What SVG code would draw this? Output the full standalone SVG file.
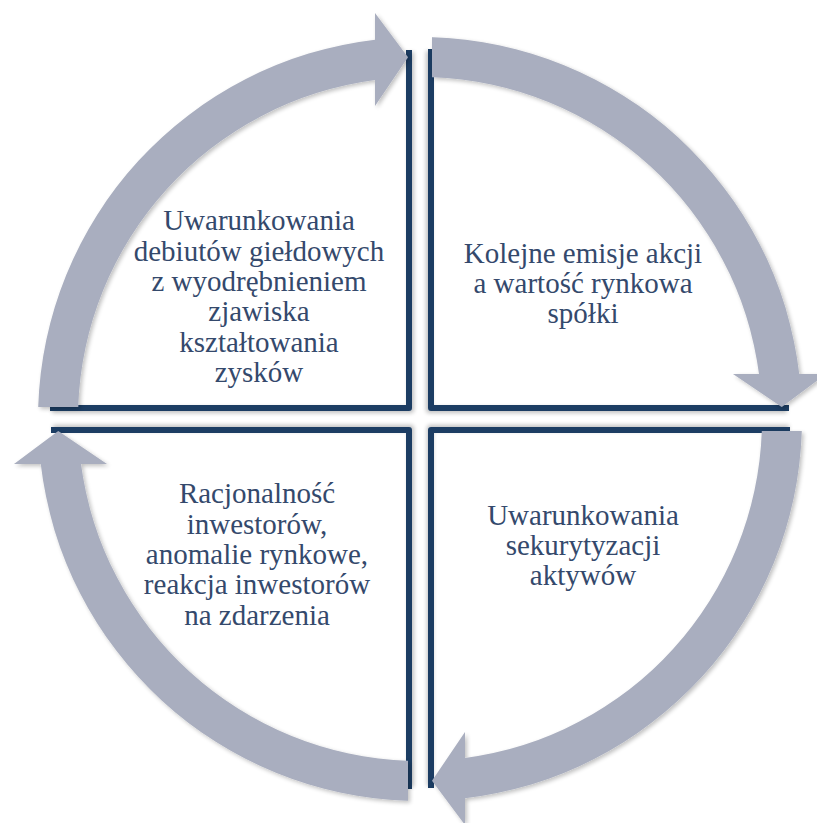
<svg xmlns="http://www.w3.org/2000/svg" xmlns:xlink="http://www.w3.org/1999/xlink" width="817" height="823" viewBox="0 0 817 823">
  <style>
    .ring { fill: #a9aebf; }
    .edge { fill: none; stroke: #1f3e64; stroke-width: 6; stroke-linejoin: round; stroke-linecap: butt; }
    .label { font-size: 29px; fill: #34496c; text-anchor: middle; }
  </style>
  <defs>
    <filter id="soft" x="-10%" y="-10%" width="120%" height="120%">
      <feGaussianBlur in="SourceAlpha" stdDeviation="2"/>
      <feOffset dx="1.5" dy="2" result="blur"/>
      <feComponentTransfer><feFuncA type="linear" slope="0.25"/></feComponentTransfer>
      <feMerge><feMergeNode/><feMergeNode in="SourceGraphic"/></feMerge>
    </filter>
    <!-- quarter ring arrow running from 9 o'clock to 12 o'clock, centre (420,419) -->
    <path id="arc-arrow" class="ring"
          d="M 38.2 407 A 382 382 0 0 1 375 39.7 L 375 13 L 408 57.2 L 375 106 L 375 80 A 342 342 0 0 0 78.2 407 Z"/>
    <!-- L-shaped edge of the upper-left quadrant -->
    <polyline id="quad-edge" class="edge" points="409,50 409,408 50,408"/>
  </defs>

  <!-- quadrants -->
  <g id="node-debiuty">
    <use xlink:href="#quad-edge" filter="url(#soft)"/>
    <g font-family="Liberation Serif, Tinos, DejaVu Serif, serif">
      <text class="label" x="259" y="230">Uwarunkowania</text>
      <text class="label" x="259" y="261">debiutów giełdowych</text>
      <text class="label" x="259" y="291">z wyodrębnieniem</text>
      <text class="label" x="259" y="321">zjawiska</text>
      <text class="label" x="259" y="352">kształtowania</text>
      <text class="label" x="259" y="382">zysków</text>
    </g>
  </g>

  <g id="node-emisje">
    <use xlink:href="#quad-edge" transform="rotate(90 420 419)" filter="url(#soft)"/>
    <g font-family="Liberation Serif, Tinos, DejaVu Serif, serif">
      <text class="label" x="583" y="263">Kolejne emisje akcji</text>
      <text class="label" x="583" y="293">a wartość rynkowa</text>
      <text class="label" x="583" y="323">spółki</text>
    </g>
  </g>

  <g id="node-sekurytyzacja">
    <use xlink:href="#quad-edge" transform="rotate(180 420 419)" filter="url(#soft)"/>
    <g font-family="Liberation Serif, Tinos, DejaVu Serif, serif">
      <text class="label" x="583" y="525">Uwarunkowania</text>
      <text class="label" x="583" y="555">sekurytyzacji</text>
      <text class="label" x="583" y="585">aktywów</text>
    </g>
  </g>

  <g id="node-racjonalnosc">
    <use xlink:href="#quad-edge" transform="rotate(270 420 419)" filter="url(#soft)"/>
    <g font-family="Liberation Serif, Tinos, DejaVu Serif, serif">
      <text class="label" x="257" y="503">Racjonalność</text>
      <text class="label" x="257" y="534">inwestorów,</text>
      <text class="label" x="257" y="564">anomalie rynkowe,</text>
      <text class="label" x="257" y="594">reakcja inwestorów</text>
      <text class="label" x="257" y="625">na zdarzenia</text>
    </g>
  </g>

  <!-- circular arrows between quadrants -->
  <g id="connectors" filter="url(#soft)">
    <use xlink:href="#arc-arrow"/>
    <use xlink:href="#arc-arrow" transform="rotate(90 420 419)"/>
    <use xlink:href="#arc-arrow" transform="rotate(180 420 419)"/>
    <use xlink:href="#arc-arrow" transform="rotate(270 420 419)"/>
  </g>
</svg>
